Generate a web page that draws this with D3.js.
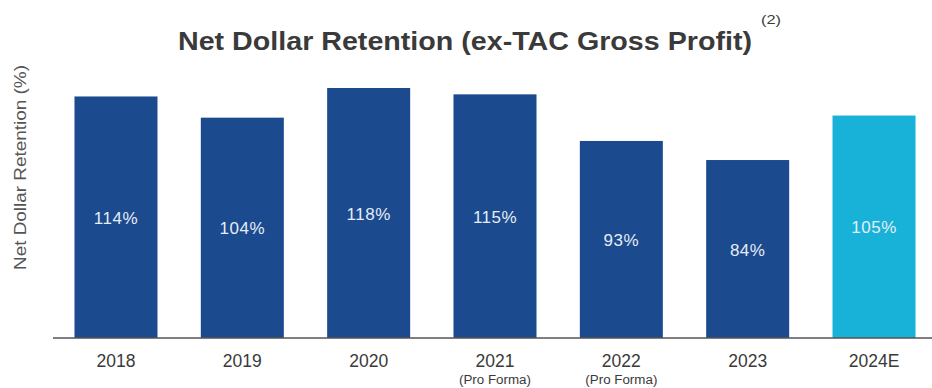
<!DOCTYPE html>
<html>
<head>
<meta charset="utf-8">
<script src="https://cdn.jsdelivr.net/npm/d3@7"></script>
<style>
  body { margin: 0; background: #fff; }
  text { font-family: Arial, "Liberation Sans", sans-serif; }
</style>
</head>
<body>
<div id="chart"></div>
<script>
// data
const years = ["2018", "2019", "2020", "2021", "2022", "2023", "2024E"];
const subLabels = ["", "", "", "(Pro Forma)", "(Pro Forma)", "", ""];
const ndr = [114, 104, 118, 115, 93, 84, 105];
const estimated = [false, false, false, false, false, false, true];

// svg
const width = 932;
const height = 388;
const baseY = 338;

const svg = d3.select("#chart")
	.append("svg")
	.attr("width", width)
	.attr("height", height);

const data = years.map((y, i) => ({ year: y, sub: subLabels[i], value: ndr[i], est: estimated[i] }));

// scales
const xScale = d3.scaleBand()
	.domain(years)
	.range([53, 937])
	.paddingInner(0.343)
	.paddingOuter(0.17);

const yScale = d3.scaleLinear()
	.domain([0, 118])
	.range([baseY, 88]);

// bars
svg.selectAll("rect.bar")
	.data(data)
	.enter()
	.append("rect")
	.attr("class", "bar")
	.attr("x", d => xScale(d.year))
	.attr("y", d => yScale(d.value))
	.attr("width", xScale.bandwidth())
	.attr("height", d => yScale(0) - yScale(d.value))
	.attr("fill", d => d.est ? "#18b2d8" : "#1b4a8e");

// value labels in middle of bar
svg.selectAll("text.val")
	.data(data)
	.enter()
	.append("text")
	.attr("class", "val")
	.attr("x", d => xScale(d.year) + xScale.bandwidth() / 2)
	.attr("y", d => (yScale(d.value) + yScale(0)) / 2 + 6.5)
	.attr("text-anchor", "middle")
	.attr("font-size", 17)
	.attr("letter-spacing", 0.5)
	.attr("fill", "#e6edf6")
	.text(d => d.value + "%");

// x axis
const xAxis = d3.axisBottom(xScale).tickSize(0).tickPadding(17);
const gx = svg.append("g")
	.attr("transform", `translate(0,${baseY})`)
	.call(xAxis);
gx.select(".domain")
	.attr("d", "M53,0H932")
	.attr("stroke", "#555")
	.attr("stroke-width", 1.5);
gx.selectAll(".tick text")
	.attr("font-size", 17.5)
	.attr("fill", "#3a3a3a")
	.attr("font-family", "Arial, 'Liberation Sans', sans-serif");

// sub labels
svg.selectAll("text.sub")
	.data(data.filter(d => d.sub))
	.enter()
	.append("text")
	.attr("class", "sub")
	.attr("x", d => xScale(d.year) + xScale.bandwidth() / 2 - 36)
	.attr("y", 384)
	.attr("font-size", 12)
	.attr("textLength", 72)
	.attr("lengthAdjust", "spacingAndGlyphs")
	.attr("fill", "#3a3a3a")
	.text(d => d.sub);

// y label
svg.append("text")
	.attr("transform", "translate(26,270) rotate(-90)")
	.attr("font-size", 16)
	.attr("textLength", 205)
	.attr("lengthAdjust", "spacingAndGlyphs")
	.attr("fill", "#555")
	.text("Net Dollar Retention (%)");

// title
svg.append("text")
	.attr("x", 178)
	.attr("y", 50)
	.attr("font-size", 25)
	.attr("font-weight", "bold")
	.attr("textLength", 574)
	.attr("lengthAdjust", "spacingAndGlyphs")
	.attr("fill", "#3a3a3a")
	.text("Net Dollar Retention (ex-TAC Gross Profit)");

svg.append("text")
	.attr("x", 761)
	.attr("y", 24)
	.attr("font-size", 13)
	.attr("textLength", 20)
	.attr("lengthAdjust", "spacingAndGlyphs")
	.attr("fill", "#3a3a3a")
	.text("(2)");
</script>
</body>
</html>
